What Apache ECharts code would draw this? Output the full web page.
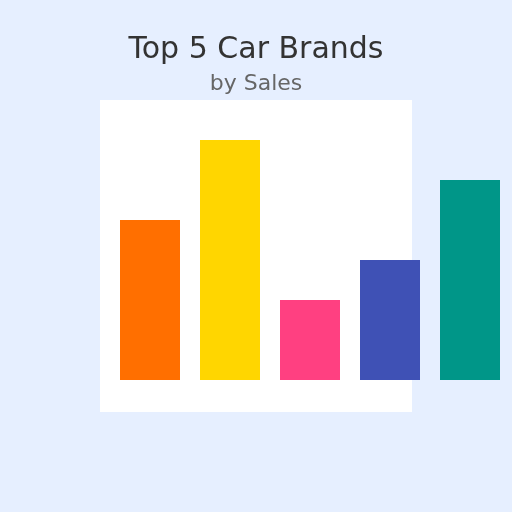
<!DOCTYPE html>
<html>
<head>
<meta charset="utf-8">
<script src="https://cdn.jsdelivr.net/npm/echarts@6/dist/echarts.min.js"></script>
<style>html,body{margin:0;padding:0;background:#e6efff}#chart{width:512px;height:512px}</style>
</head>
<body>
<div id="chart"></div>
<script>
const brands = ['Toyota', 'Volkswagen', 'Ford', 'Honda', 'Hyundai'];
const sales = [4, 6, 2, 3, 5];
const colors = ['#ff6f00', '#ffd600', '#ff4081', '#3f51b5', '#009688'];

const chart = echarts.init(document.getElementById('chart'));
chart.setOption({
    backgroundColor: '#e6efff',
    title: {
        text: 'Top 5 Car Brands',
        subtext: 'by Sales',
        left: 'center',
        top: 30,
        itemGap: 8,
        textStyle: { fontFamily: 'DejaVu Sans', fontSize: 30, fontWeight: 'normal', color: '#333' },
        subtextStyle: { fontFamily: 'DejaVu Sans', fontSize: 22, color: '#666' }
    },
    graphic: [{
        type: 'rect', z: -10,
        shape: { x: 100, y: 100, width: 312, height: 312 },
        style: { fill: '#fff' }
    }],
    grid: { left: 110, width: 400, top: 80, height: 300 },
    xAxis: { type: 'category', data: brands, show: false },
    yAxis: { type: 'value', min: 0, max: 7.5, show: false },
    series: [{
        type: 'bar',
        barWidth: 60,
        data: sales.map((v, i) => ({ value: v, itemStyle: { color: colors[i] } }))
    }]
});
</script>
</body>
</html>
